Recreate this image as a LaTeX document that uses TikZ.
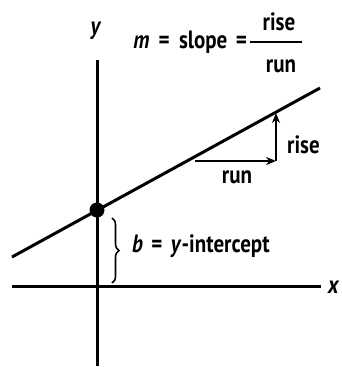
\documentclass[tikz,border=0pt]{standalone}
\usepackage{fontspec}
\setmainfont{PT Sans}
\usetikzlibrary{arrows.meta,decorations.pathreplacing}
\tikzset{
  lbl/.style={inner sep=0pt,xscale=0.84,font=\fontsize{25}{30}\selectfont\bfseries},
  axis/.style={line width=3pt},
  pil/.style={line width=1.8pt,-{Stealth[length=10pt,width=8pt]}}
}
\begin{document}
\begin{tikzpicture}[x=1pt,y=-1pt]
\useasboundingbox (0,0) rectangle (341,367);
\coordinate (xl) at (12,286); \coordinate (xr) at (321,286);
\coordinate (yt) at (97,60); \coordinate (yb) at (97,366);
\draw[axis] (xl) -- (xr);
\draw[axis] (yt) -- (yb);
\node[lbl,anchor=base west] (xlab) at (328,293) {\textit{x}};
\node[lbl,anchor=base] (ylab) at (96,34) {\textit{y}};
\coordinate (l0) at (12,257); \coordinate (l1) at (320,88);
\draw[axis] (l0) -- (l1);
\node[circle,fill,inner sep=0pt,minimum size=15pt] (icpt) at (97,210) {};
\draw[decorate,decoration={brace,amplitude=7pt},line width=1.6pt] (112,218) -- (112,283);
\node[lbl,anchor=base west] (blab) at (132,252) {\textit{b}\hspace{10pt}=\hspace{10pt}\textit{y}-intercept};
\node[lbl,anchor=base east] (mlab) at (247,48) {\textit{m}\hspace{11pt}=\hspace{11pt}slope\hspace{10pt}=};
\node[lbl,anchor=base] (frise) at (279,30) {rise};
\node[lbl,anchor=base] (frun) at (281,72) {run};
\draw[line width=1.5pt] (250,42) -- (302,42);
\coordinate (r0) at (195,161); \coordinate (r1) at (276,161); \coordinate (r2) at (276,113);
\draw[pil] (r0) -- (r1);
\draw[pil] (r1) -- (r2);
\node[lbl,anchor=base] (runlab) at (237,183) {run};
\node[lbl,anchor=base west] (riselab) at (287,153) {rise};
\end{tikzpicture}
\end{document}
